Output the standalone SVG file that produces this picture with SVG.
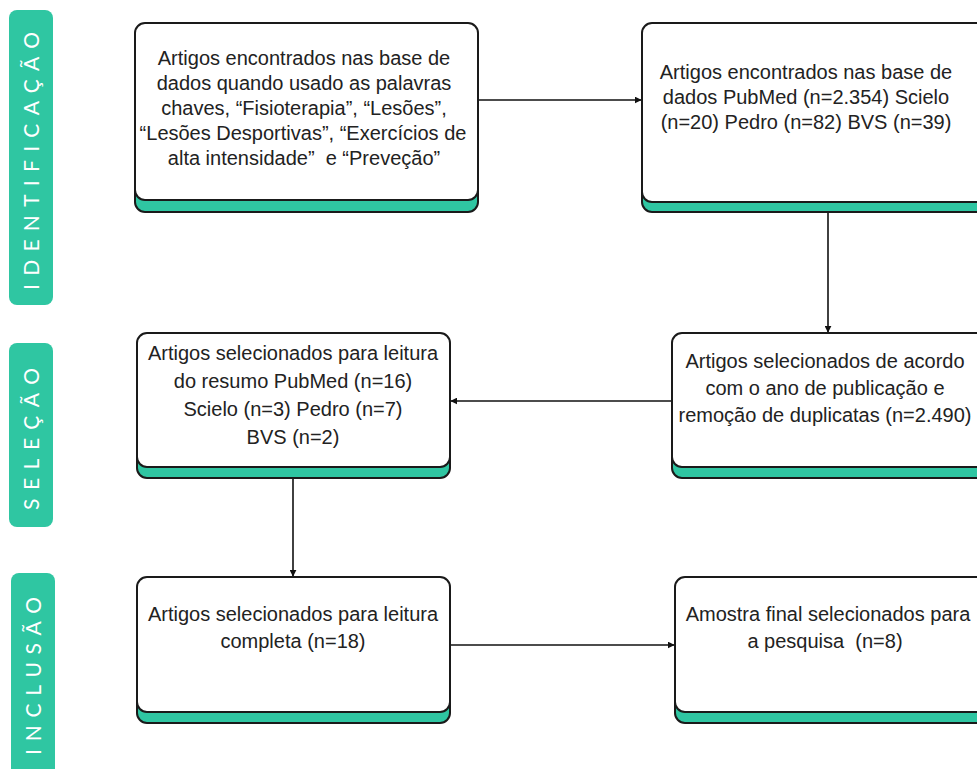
<svg xmlns="http://www.w3.org/2000/svg" width="977" height="769" viewBox="0 0 977 769">
<style>
.bar{fill:#2fc6a2}
.bt{fill:#ffffff;font-family:Lato,"Open Sans",sans-serif;font-size:21px;text-anchor:middle}
.sh{fill:#2fc6a2;stroke:#1a1a1a;stroke-width:2}
.bx{fill:#ffffff;stroke:#1a1a1a;stroke-width:2}
.t{fill:#222222;font-family:"Liberation Sans",Arial,sans-serif;font-size:20px;text-anchor:middle;white-space:pre}
.c{fill:none;stroke:#111111;stroke-width:1.6}
</style>
<defs>
<marker id="ah" viewBox="0 0 10 10" refX="9" refY="5" markerWidth="7" markerHeight="7" markerUnits="userSpaceOnUse" orient="auto">
<path d="M0,0 L10,5 L0,10 z" fill="#111111"/>
</marker>
</defs>
<rect width="977" height="769" fill="#ffffff"/>

<g id="label-identificacao">
<rect class="bar" x="9" y="10" width="44" height="295" rx="8"/>
<text class="bt" transform="translate(39,161) rotate(-90)" textLength="258" lengthAdjust="spacing">IDENTIFICAÇÃO</text>
</g>
<g id="label-selecao">
<rect class="bar" x="9" y="343" width="44" height="184" rx="8"/>
<text class="bt" transform="translate(39,439) rotate(-90)" textLength="142" lengthAdjust="spacing">SELEÇÃO</text>
</g>
<g id="label-inclusao">
<rect class="bar" x="11" y="573" width="44" height="210" rx="8"/>
<text class="bt" transform="translate(41,676) rotate(-90)" textLength="158" lengthAdjust="spacing">INCLUSÃO</text>
</g>

<g id="connectors">
<line class="c" x1="478" y1="100" x2="641" y2="100" marker-end="url(#ah)"/>
<line class="c" x1="828" y1="212" x2="828" y2="332" marker-end="url(#ah)"/>
<line class="c" x1="672" y1="401" x2="451" y2="401" marker-end="url(#ah)"/>
<line class="c" x1="293" y1="478" x2="293" y2="576" marker-end="url(#ah)"/>
<line class="c" x1="450" y1="645" x2="674" y2="645" marker-end="url(#ah)"/>
</g>

<g id="node1">
<rect class="sh" x="135" y="180" width="343" height="32" rx="10"/>
<rect class="bx" x="135" y="23" width="343" height="177" rx="10"/>
<text class="t" x="304" y="65">Artigos encontrados nas base de</text>
<text class="t" x="304" y="90">dados quando usado as palavras</text>
<text class="t" x="304" y="115">chaves, “Fisioterapia”, “Lesões”,</text>
<text class="t" x="303" y="140">“Lesões Desportivas”, “Exercícios de</text>
<text class="t" x="304" y="165" xml:space="preserve">alta intensidade”  e “Preveção”</text>
</g>

<g id="node2">
<rect class="sh" x="642" y="180" width="345" height="32" rx="10"/>
<rect class="bx" x="642" y="23" width="345" height="179" rx="10"/>
<text class="t" x="806" y="79">Artigos encontrados nas base de</text>
<text class="t" x="806" y="104">dados PubMed (n=2.354) Scielo</text>
<text class="t" x="806" y="129">(n=20) Pedro (n=82) BVS (n=39)</text>
</g>

<g id="node3">
<rect class="sh" x="137" y="446" width="313" height="32" rx="10"/>
<rect class="bx" x="137" y="333" width="313" height="134" rx="10"/>
<text class="t" x="293" y="360">Artigos selecionados para leitura</text>
<text class="t" x="293" y="388">do resumo PubMed (n=16)</text>
<text class="t" x="293" y="416">Scielo (n=3) Pedro (n=7)</text>
<text class="t" x="293" y="444">BVS (n=2)</text>
</g>

<g id="node4">
<rect class="sh" x="672" y="446" width="315" height="32" rx="10"/>
<rect class="bx" x="672" y="333" width="315" height="134" rx="10"/>
<text class="t" x="825" y="368">Artigos selecionados de acordo</text>
<text class="t" x="825" y="395">com o ano de publicação e</text>
<text class="t" x="825" y="422">remoção de duplicatas (n=2.490)</text>
</g>

<g id="node5">
<rect class="sh" x="137" y="691" width="313" height="32" rx="10"/>
<rect class="bx" x="137" y="577" width="313" height="135" rx="10"/>
<text class="t" x="293" y="621">Artigos selecionados para leitura</text>
<text class="t" x="293" y="648">completa (n=18)</text>
</g>

<g id="node6">
<rect class="sh" x="675" y="691" width="312" height="32" rx="10"/>
<rect class="bx" x="675" y="577" width="312" height="135" rx="10"/>
<text class="t" x="828" y="621">Amostra final selecionados para</text>
<text class="t" x="825" y="648" xml:space="preserve">a pesquisa  (n=8)</text>
</g>
</svg>
